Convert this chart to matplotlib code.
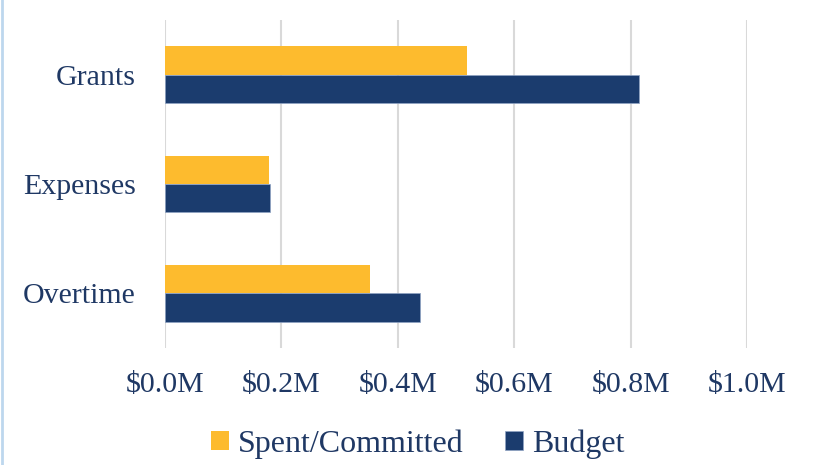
import matplotlib
matplotlib.use("Agg")
import matplotlib.pyplot as plt
import numpy as np
from matplotlib.ticker import FuncFormatter

categories = ["Grants", "Expenses", "Overtime"]
spent = [0.519, 0.179, 0.352]
budget = [0.814, 0.180, 0.439]
x_ticks = [0.0, 0.2, 0.4, 0.6, 0.8, 1.0]

YELLOW = "#FDBB2E"
NAVY = "#1B3C6E"
TEXT = "#1F3864"
GRID = "#D9D9D9"

plt.rcParams['font.family'] = ['Liberation Serif', 'DejaVu Serif']

fig = plt.figure(figsize=(8.18, 4.65), dpi=100)
W, H = 818, 465
ax = fig.add_axes([165 / W, (H - 348) / H, (747 - 165) / W, (348 - 20) / H])

y = np.arange(len(categories))
h = 0.26
ax.barh(y - h / 2, spent, height=h, color=YELLOW, label="Spent/Committed", zorder=3)
ax.barh(y + h / 2, budget, height=h, color=NAVY, label="Budget", zorder=3,
        edgecolor="#8FA3C4", linewidth=0.5)

ax.set_ylim(len(categories) - 0.5, -0.5)
ax.set_xlim(0, 1.0)
ax.set_yticks(y)
ax.set_yticklabels(categories)
ax.set_xticks(x_ticks)
ax.xaxis.set_major_formatter(FuncFormatter(lambda v, p: f"${v:.1f}M"))

ax.tick_params(axis='both', length=0, labelsize=21.5, colors=TEXT)
ax.tick_params(axis='y', pad=21)
ax.tick_params(axis='x', pad=17)
for s in ax.spines.values():
    s.set_visible(False)
ax.grid(axis='x', color=GRID, linewidth=1.5, zorder=0)
ax.set_axisbelow(True)

fig.legend(loc='center', bbox_to_anchor=(418 / W, 1 - 444 / H), ncol=2, frameon=False,
           fontsize=23, labelcolor=TEXT, handlelength=0.55, handleheight=0.55,
           handletextpad=0.3, columnspacing=1.3)

fig.add_artist(plt.Line2D([1.5 / W, 1.5 / W], [0, 1], color="#BDD7EE", linewidth=2,
                          transform=fig.transFigure))

fig.savefig("out.png", dpi=100)
